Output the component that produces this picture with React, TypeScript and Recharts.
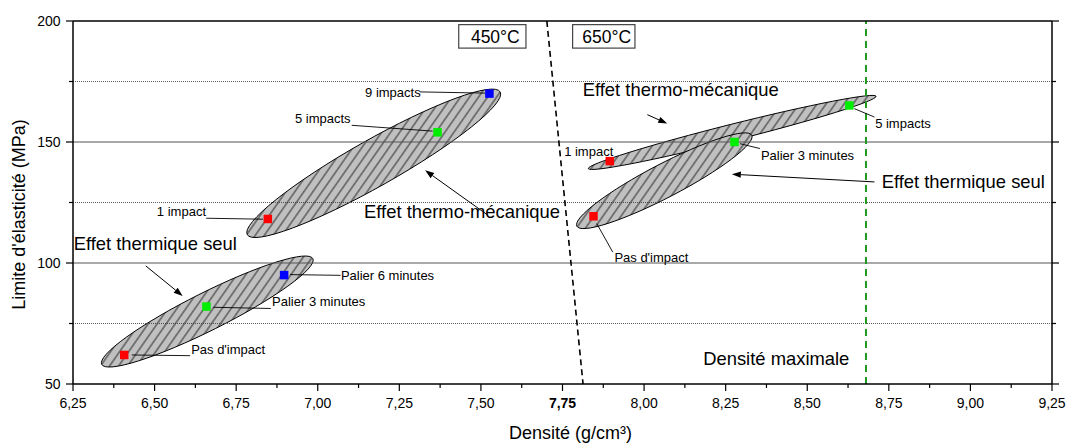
import React from 'react';
import { ComposedChart, Scatter, XAxis, YAxis, ReferenceLine, ReferenceArea, ReferenceDot } from 'recharts';

const FONT = '"Liberation Sans", Arial, sans-serif';

// densité / limite d'élasticité
const redPoints = [
  { x: 6.407, y: 62.0 },
  { x: 6.847, y: 118.2 },
  { x: 7.895, y: 142.1 },
  { x: 7.845, y: 119.3 },
];
const greenPoints = [
  { x: 6.659, y: 82.0 },
  { x: 7.367, y: 154.0 },
  { x: 8.629, y: 165.1 },
  { x: 8.277, y: 150.0 },
];
const bluePoints = [
  { x: 6.897, y: 95.0 },
  { x: 7.526, y: 170.0 },
];

// ellipses: tips of the major axis + minor/major ratio
const ellipses = [
  { x1: 6.338, y1: 58.1, x2: 6.985, y2: 101.8, ratio: 0.16 },
  { x1: 6.784, y1: 111.7, x2: 7.559, y2: 170.7, ratio: 0.16 },
  { x1: 7.829, y1: 139.0, x2: 8.711, y2: 168.9, ratio: 0.055 },
  { x1: 7.794, y1: 115.2, x2: 8.330, y2: 152.8, ratio: 0.17 },
];

const xMajor = [6.25, 6.5, 6.75, 7.0, 7.25, 7.5, 7.75, 8.0, 8.25, 8.5, 8.75, 9.0, 9.25];
const xMinor = [6.375, 6.625, 6.875, 7.125, 7.375, 7.625, 7.875, 8.125, 8.375, 8.625, 8.875, 9.125];
const yMajor = [50, 100, 150, 200];
const yMinor = [75, 125, 175];
const xTicks = [...xMajor, ...xMinor].sort((a, b) => a - b);
const yTicks = [...yMajor, ...yMinor].sort((a, b) => a - b);

const tempBoxes = [
  { label: '450°C', x1: 7.432, x2: 7.638, y1: 188.8, y2: 198.5 },
  { label: '650°C', x1: 7.781, x2: 7.972, y1: 188.8, y2: 198.5 },
];

const transitionLine = [{ x: 7.702, y: 200 }, { x: 7.813, y: 50 }];
const densiteMax = 8.68;

const leaders = [
  [{ x: 6.430, y: 62.0 }, { x: 6.609, y: 61.7 }],
  [{ x: 6.680, y: 81.7 }, { x: 6.856, y: 81.2 }],
  [{ x: 6.915, y: 95.2 }, { x: 7.070, y: 94.9 }],
  [{ x: 6.658, y: 118.5 }, { x: 6.832, y: 118.1 }],
  [{ x: 7.104, y: 156.9 }, { x: 7.352, y: 154.5 }],
  [{ x: 7.313, y: 170.7 }, { x: 7.513, y: 170.2 }],
  [{ x: 8.644, y: 163.8 }, { x: 8.706, y: 160.3 }],
  [{ x: 8.294, y: 149.3 }, { x: 8.355, y: 147.3 }],
  [{ x: 7.855, y: 116.3 }, { x: 7.904, y: 104.5 }],
];

const arrows = [
  [{ x: 6.473, y: 98.8 }, { x: 6.586, y: 86.4 }],
  [{ x: 7.522, y: 119.7 }, { x: 7.329, y: 138.3 }],
  [{ x: 8.010, y: 161.3 }, { x: 8.071, y: 157.6 }],
  [{ x: 8.706, y: 133.5 }, { x: 8.269, y: 136.7 }],
];

const smallLabels = [
  { text: "Pas d'impact", x: 6.612, y: 64.2 },
  { text: 'Palier 3 minutes', x: 6.860, y: 84.0 },
  { text: 'Palier 6 minutes', x: 7.071, y: 94.9 },
  { text: '1 impact', x: 6.507, y: 121.5 },
  { text: '5 impacts', x: 6.930, y: 159.7 },
  { text: '9 impacts', x: 7.145, y: 170.7 },
  { text: '1 impact', x: 7.755, y: 146.3 },
  { text: '5 impacts', x: 8.708, y: 157.9 },
  { text: 'Palier 3 minutes', x: 8.358, y: 144.4 },
  { text: "Pas d'impact", x: 7.909, y: 102.2 },
];

const bigLabels = [
  { text: 'Effet thermique seul', x: 6.252, y: 108.0, anchor: 'start' },
  { text: 'Effet thermo-mécanique', x: 7.142, y: 121.5, anchor: 'start' },
  { text: 'Effet thermo-mécanique', x: 7.812, y: 171.7, anchor: 'start' },
  { text: 'Effet thermique seul', x: 8.728, y: 133.8, anchor: 'start' },
  { text: 'Densité maximale', x: 8.629, y: 60.5, anchor: 'end' },
];

const fmt = (v: number) => v.toFixed(2).replace('.', ',');

const bottomTick = (p: any) => {
  const v = p.payload.value;
  const major = xMajor.includes(v);
  return (
    <g>
      <line x1={p.x} y1={p.y} x2={p.x} y2={p.y + (major ? 7 : 4)} stroke="#000" strokeWidth={1.2} />
      {major && (
        <text x={p.x} y={p.y + 24} textAnchor="middle" fontSize={14} fontFamily={FONT}
          fontWeight={v === 7.75 ? 'bold' : 'normal'} fill="#000">{fmt(v)}</text>
      )}
    </g>
  );
};

const topTick = (p: any) => {
  const major = xMajor.includes(p.payload.value);
  return <line x1={p.x} y1={p.y} x2={p.x} y2={p.y - (major ? 7 : 4)} stroke="#000" strokeWidth={1.2} />;
};

const leftTick = (p: any) => {
  const v = p.payload.value;
  const major = yMajor.includes(v);
  return (
    <g>
      <line x1={p.x} y1={p.y} x2={p.x - (major ? 7 : 4)} y2={p.y} stroke="#000" strokeWidth={1.2} />
      {major && (
        <text x={p.x - 12.5} y={p.y} dy="0.36em" textAnchor="end" fontSize={14} fontFamily={FONT} fill="#000">{v}</text>
      )}
    </g>
  );
};

const rightTick = (p: any) => {
  const major = yMajor.includes(p.payload.value);
  return <line x1={p.x} y1={p.y} x2={p.x + (major ? 7 : 4)} y2={p.y} stroke="#000" strokeWidth={1.2} />;
};

const square = (color: string) => (p: any) => (
  <rect x={p.cx - 4.25} y={p.cy - 4.25} width={8.5} height={8.5} fill={color} />
);

const ellipseShape = (i: number, ratio: number) => (p: any) => {
  const { x, y, width, height } = p;
  const ax = x, ay = y + height, bx = x + width, by = y;
  const rx = Math.sqrt(width * width + height * height) / 2;
  const ry = rx * ratio;
  const phi = (Math.atan2(by - ay, bx - ax) * 180) / Math.PI;
  const d = `M${ax},${ay} A${rx},${ry} ${phi} 0 1 ${bx},${by} A${rx},${ry} ${phi} 0 1 ${ax},${ay} Z`;
  const id = `hatch-${i}`;
  return (
    <g>
      <defs>
        <pattern id={id} patternUnits="userSpaceOnUse" width={7.4} height={10} patternTransform="rotate(35)">
          <rect width={7.4} height={10} fill="#c0c0c0" />
          <line x1={3.7} y1={-1} x2={3.7} y2={11} stroke="#000" strokeWidth={0.8} />
        </pattern>
      </defs>
      <path d={d} fill={`url(#${id})`} stroke="#000" strokeWidth={1} />
    </g>
  );
};

const boxShape = (label: string) => (p: any) => (
  <g>
    <rect x={p.x} y={p.y} width={p.width} height={p.height} fill="#fff" stroke="#444" strokeWidth={1.2} />
    <text x={p.x + p.width / 2 + 3} y={p.y + p.height / 2} dy="0.36em" textAnchor="middle" fontSize={17.5}
      fontFamily={FONT} fill="#000">{label}</text>
  </g>
);

const arrowShape = (p: any) => {
  const { x1, y1, x2, y2 } = p;
  const a = Math.atan2(y2 - y1, x2 - x1);
  const L = 9, W = 3.2;
  const bx = x2 - L * Math.cos(a), by = y2 - L * Math.sin(a);
  const pts = `${x2},${y2} ${bx - W * Math.sin(a)},${by + W * Math.cos(a)} ${bx + W * Math.sin(a)},${by - W * Math.cos(a)}`;
  return (
    <g>
      <line x1={x1} y1={y1} x2={bx} y2={by} stroke="#000" strokeWidth={1} />
      <polygon points={pts} fill="#000" />
    </g>
  );
};

const textShape = (text: string, size: number, anchor: string) => (p: any) => (
  <text x={p.cx} y={p.cy} dy="0.36em" textAnchor={anchor} fontSize={size} fontFamily={FONT} fill="#000">{text}</text>
);

export default function App() {
  return (
    <div style={{ position: 'absolute', left: 0, top: 0, background: '#fff' }}>
      <ComposedChart width={1071} height={444} margin={{ top: 0, right: 0, bottom: 0, left: 0 }}>
        <XAxis type="number" dataKey="x" domain={[6.25, 9.25]} ticks={xTicks} interval={0} allowDataOverflow
          height={60} tickSize={0} tickMargin={0} tickLine={false} tick={bottomTick}
          axisLine={{ stroke: '#000', strokeWidth: 1.5 }}
          label={{
            content: (lp: any) => {
              const vb = lp.viewBox;
              return (
                <text x={vb.x + vb.width / 2 + 8} y={vb.y + 55} textAnchor="middle" fontSize={18} fontFamily={FONT} fill="#000">
                  Densité (g/cm³)
                </text>
              );
            },
          }}
        />
        <XAxis xAxisId="top" orientation="top" type="number" domain={[6.25, 9.25]} ticks={xTicks} interval={0}
          allowDataOverflow height={21} tickSize={0} tickMargin={0} tickLine={false} tick={topTick}
          axisLine={{ stroke: '#000', strokeWidth: 1.5 }} />
        <YAxis type="number" dataKey="y" domain={[50, 200]} ticks={yTicks} interval={0} allowDataOverflow
          width={73} tickSize={0} tickMargin={0} tickLine={false} tick={leftTick}
          axisLine={{ stroke: '#000', strokeWidth: 1.5 }}
          label={{
            content: (lp: any) => {
              const vb = lp.viewBox;
              const cx = vb.x + 18.5;
              const cy = vb.y + vb.height / 2 + 12;
              return (
                <text x={cx} y={cy} dy="0.36em" textAnchor="middle" fontSize={18} fontFamily={FONT} fill="#000"
                  transform={`rotate(-90, ${cx}, ${cy})`}>
                  Limite d'élasticité (MPa)
                </text>
              );
            },
          }}
        />
        <YAxis yAxisId="right" orientation="right" type="number" domain={[50, 200]} ticks={yTicks} interval={0}
          allowDataOverflow width={19} tickSize={0} tickMargin={0} tickLine={false} tick={rightTick}
          axisLine={{ stroke: '#000', strokeWidth: 1.5 }} />

        {yMajor.slice(1, 3).map((v) => (
          <ReferenceLine key={`g${v}`} y={v} stroke="#555" strokeWidth={1.2} />
        ))}
        {yMinor.map((v) => (
          <ReferenceLine key={`m${v}`} y={v} stroke="#333" strokeWidth={0.8} strokeDasharray="1 1" />
        ))}

        {ellipses.map((e, i) => (
          <ReferenceArea key={`e${i}`} x1={e.x1} x2={e.x2} y1={e.y1} y2={e.y2} ifOverflow="visible"
            shape={ellipseShape(i, e.ratio)} />
        ))}

        <ReferenceLine segment={transitionLine} ifOverflow="visible" stroke="#000" strokeWidth={1.6} strokeDasharray="6 4" />
        <ReferenceLine x={densiteMax} stroke="#1f9a1f" strokeWidth={2} strokeDasharray="7 5" />

        {tempBoxes.map((b) => (
          <ReferenceArea key={b.label} x1={b.x1} x2={b.x2} y1={b.y1} y2={b.y2} ifOverflow="visible" shape={boxShape(b.label)} />
        ))}

        {leaders.map((s, i) => (
          <ReferenceLine key={`l${i}`} segment={s} ifOverflow="visible" stroke="#000" strokeWidth={0.9} />
        ))}
        {arrows.map((s, i) => (
          <ReferenceLine key={`a${i}`} segment={s} ifOverflow="visible" shape={arrowShape} />
        ))}

        <Scatter data={redPoints} shape={square('#ff0000')} isAnimationActive={false} />
        <Scatter data={greenPoints} shape={square('#00ee00')} isAnimationActive={false} />
        <Scatter data={bluePoints} shape={square('#0000ff')} isAnimationActive={false} />

        {smallLabels.map((t, i) => (
          <ReferenceDot key={`s${i}`} x={t.x} y={t.y} r={0} ifOverflow="visible" shape={textShape(t.text, 13, 'start')} />
        ))}
        {bigLabels.map((t, i) => (
          <ReferenceDot key={`b${i}`} x={t.x} y={t.y} r={0} ifOverflow="visible" shape={textShape(t.text, 18.4, t.anchor)} />
        ))}
      </ComposedChart>
    </div>
  );
}
